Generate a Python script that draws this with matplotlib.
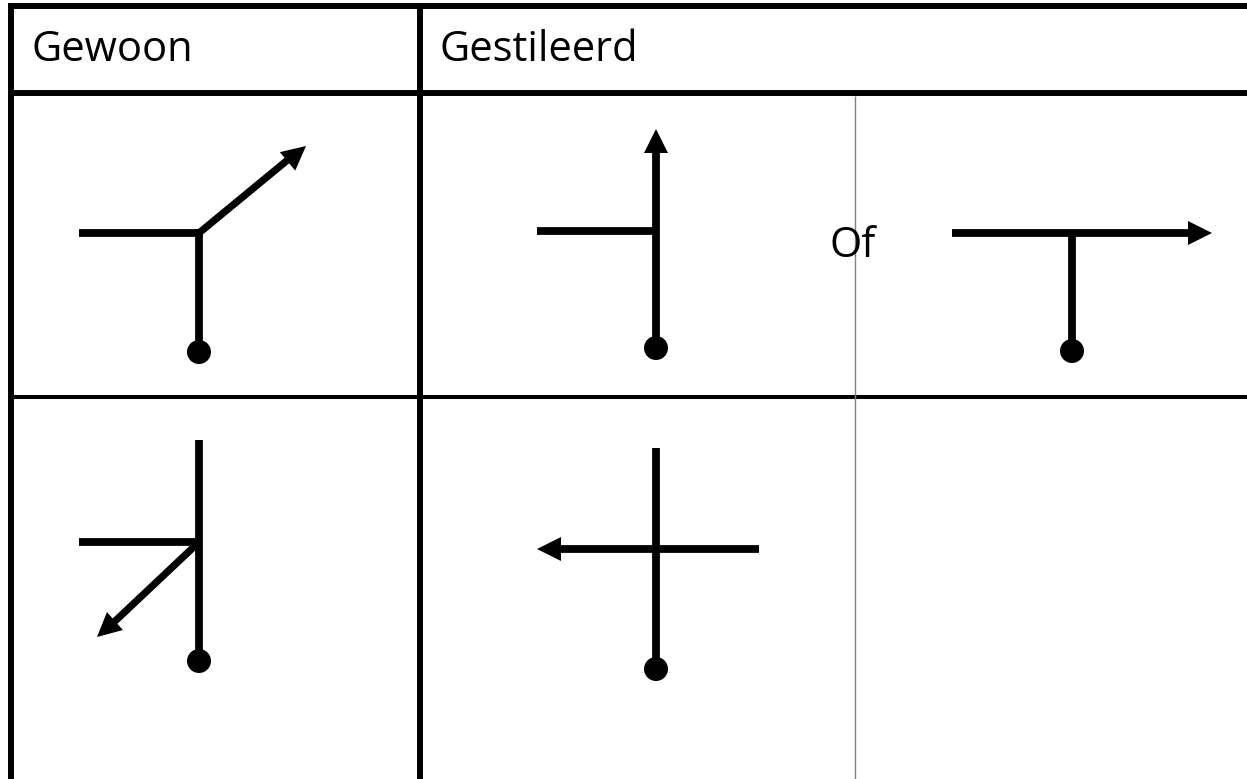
import numpy as np
import matplotlib
matplotlib.use("Agg")
import matplotlib.pyplot as plt
from matplotlib.patches import Polygon, Circle

W, H = 1247, 779
headers = [("Gewoon", 32, 61), ("Gestileerd", 439, 61)]
of_label = ("Of", 830, 257)
thick_lines = [((11, 3), (11, 779)), ((419.5, 3), (419.5, 779)), ((8, 6), (1247, 6)), ((8, 93), (1247, 93))]
mid_lines = [((8, 397), (1247, 397))]
thin_lines = [((855, 96), (855, 779))]
stems = [
    ((79, 233), (203, 233)), ((199, 229), (199, 352)),
    ((537, 231), (656, 231)), ((656, 150), (656, 348)),
    ((952, 233), (1190, 233)), ((1072, 233), (1072, 351)),
    ((199, 440), (199, 661)), ((79, 542), (199, 542)),
    ((656, 448), (656, 669)), ((555, 549), (759, 549)),
]
diagonals = [((199, 233), (290, 158)), ((199, 542), (112, 624))]
# arrow tip, and the direction the arrow points in
heads = [
    ((306, 146), (18, -15)), ((656, 129), (0, -1)), ((1212, 233), (1, 0)),
    ((97, 637), (-18, 16)), ((537, 549), (-1, 0)),
]
dots = [(199, 352), (656, 348), (1072, 351), (199, 661), (656, 669)]

fig = plt.figure(figsize=(W / 100, H / 100), dpi=100, facecolor="white")
ax = fig.add_axes([0, 0, 1, 1])
ax.set_xlim(0, W)
ax.set_ylim(H, 0)
ax.axis("off")

for p, q in thick_lines:
    ax.plot(*zip(p, q), color="black", lw=4.3, solid_capstyle="butt")
for p, q in mid_lines:
    ax.plot(*zip(p, q), color="black", lw=2.9, solid_capstyle="butt")
for p, q in thin_lines:
    ax.plot(*zip(p, q), color="#808080", lw=1.0, solid_capstyle="butt")
for p, q in stems:
    ax.plot(*zip(p, q), color="black", lw=5.6, solid_capstyle="butt")
for p, q in diagonals:
    ax.plot(*zip(p, q), color="black", lw=5.2, solid_capstyle="butt")

HEAD_LEN, HEAD_HALF = 24, 12
for tip, direction in heads:
    tip = np.array(tip, float)
    d = np.array(direction, float)
    d /= np.hypot(*d)
    n = np.array([-d[1], d[0]])
    base = tip - HEAD_LEN * d
    ax.add_patch(Polygon([tip, base + HEAD_HALF * n, base - HEAD_HALF * n],
                         closed=True, facecolor="black", edgecolor="none"))
for x, y in dots:
    ax.add_patch(Circle((x, y), 12, facecolor="black", edgecolor="none"))
for t, x, y in headers + [(of_label[0], of_label[1], of_label[2])]:
    ax.text(x, y, t, fontsize=30, family="Open Sans", va="baseline", ha="left", color="black")
fig.savefig("out.png", dpi=100, facecolor="white")
